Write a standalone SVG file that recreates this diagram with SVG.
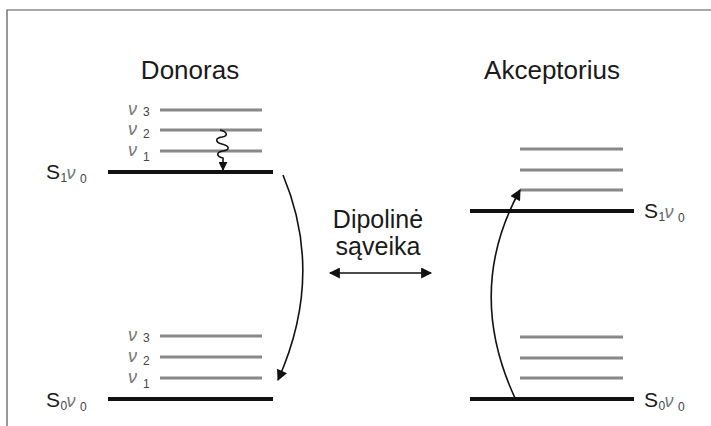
<svg xmlns="http://www.w3.org/2000/svg" width="711" height="426" viewBox="0 0 711 426">
<style>
.t{font-family:"Liberation Sans",Arial,sans-serif;fill:#1a1a1a}
.nu{font-family:"Liberation Sans",Arial,sans-serif;font-style:italic;fill:#777}
.sub{font-family:"Liberation Sans",Arial,sans-serif;font-style:normal;fill:#444}
.lv{stroke:#111;stroke-width:4}
.vb{stroke:#888;stroke-width:3}
.ar{fill:none;stroke:#111;stroke-width:1.6}
</style>
<defs>
<marker id="ah" viewBox="0 0 10 10" refX="9" refY="5" markerWidth="9" markerHeight="9" orient="auto" markerUnits="userSpaceOnUse">
<path d="M0,0 L10,5 L0,10 z" fill="#111"/>
</marker>
<marker id="ahb" viewBox="0 0 10 10" refX="9" refY="5" markerWidth="12" markerHeight="11" orient="auto-start-reverse" markerUnits="userSpaceOnUse">
<path d="M0,0 L10,5 L0,10 z" fill="#111"/>
</marker>
</defs>
<rect width="711" height="426" fill="#fff"/>
<path d="M7,426 V10 H711" fill="none" stroke="#555" stroke-width="1.2"/>

<g id="donor">
<text class="t" x="190" y="79" font-size="26" text-anchor="middle">Donoras</text>
<line class="lv" x1="108" y1="172" x2="273" y2="172"/>
<line class="vb" x1="160" y1="110" x2="262" y2="110"/>
<line class="vb" x1="160" y1="130" x2="262" y2="130"/>
<line class="vb" x1="160" y1="151" x2="262" y2="151"/>
<text class="nu" font-size="18"><tspan x="128" y="115">ν</tspan><tspan class="sub" x="143" y="116" font-size="12">3</tspan><tspan x="128" y="135">ν</tspan><tspan class="sub" x="143" y="138" font-size="12">2</tspan><tspan x="128" y="156">ν</tspan><tspan class="sub" x="143" y="161" font-size="12">1</tspan></text>
<text class="t" x="46" y="179" font-size="21">S<tspan class="sub" x="60.5" font-size="12" dy="3">1</tspan><tspan class="nu" x="66.5" font-size="18" dy="-3">ν</tspan><tspan class="sub" x="80" font-size="12" dy="4">0</tspan></text>
<line class="lv" x1="108" y1="399" x2="273" y2="399"/>
<line class="vb" x1="160" y1="336" x2="262" y2="336"/>
<line class="vb" x1="160" y1="357" x2="262" y2="357"/>
<line class="vb" x1="160" y1="378" x2="262" y2="378"/>
<text class="nu" font-size="18"><tspan x="128" y="341">ν</tspan><tspan class="sub" x="143" y="342" font-size="12">3</tspan><tspan x="128" y="362">ν</tspan><tspan class="sub" x="143" y="365" font-size="12">2</tspan><tspan x="128" y="383">ν</tspan><tspan class="sub" x="143" y="388" font-size="12">1</tspan></text>
<text class="t" x="46" y="407" font-size="21">S<tspan class="sub" x="60.5" font-size="12" dy="3">0</tspan><tspan class="nu" x="66.5" font-size="18" dy="-3">ν</tspan><tspan class="sub" x="80" font-size="12" dy="4">0</tspan></text>
</g>

<g id="acceptor">
<text class="t" x="552" y="79" font-size="26" text-anchor="middle">Akceptorius</text>
<line class="lv" x1="470" y1="211" x2="634" y2="211"/>
<line class="vb" x1="520" y1="149" x2="623" y2="149"/>
<line class="vb" x1="520" y1="170" x2="623" y2="170"/>
<line class="vb" x1="520" y1="190" x2="623" y2="190"/>
<text class="t" x="644" y="218" font-size="21">S<tspan class="sub" x="658.5" font-size="12" dy="3">1</tspan><tspan class="nu" x="664.5" font-size="18" dy="-3">ν</tspan><tspan class="sub" x="678" font-size="12" dy="4">0</tspan></text>
<line class="lv" x1="470" y1="399" x2="634" y2="399"/>
<line class="vb" x1="520" y1="337" x2="623" y2="337"/>
<line class="vb" x1="520" y1="358" x2="623" y2="358"/>
<line class="vb" x1="520" y1="378" x2="623" y2="378"/>
<text class="t" x="644" y="407" font-size="21">S<tspan class="sub" x="658.5" font-size="12" dy="3">0</tspan><tspan class="nu" x="664.5" font-size="18" dy="-3">ν</tspan><tspan class="sub" x="678" font-size="12" dy="4">0</tspan></text>
</g>

<g id="interaction">
<text class="t" x="378" y="228" font-size="25" text-anchor="middle">Dipolinė</text>
<text class="t" x="378" y="255" font-size="25" text-anchor="middle">sąveika</text>
</g>

<g id="connectors">
<path class="ar" stroke-width="1.8" d="M220,130 c8,2 8,6 2,7 c-7,1 -7,5 0,7 c8,2 8,6 1,7 c-7,1 -7,5 0,7 L223,170" marker-end="url(#ah)"/>
<path class="ar" d="M283,175 Q325,275 278,380" marker-end="url(#ahb)"/>
<path class="ar" d="M515,398 Q465,290 520,190" marker-end="url(#ahb)"/>
<line class="ar" x1="330" y1="273" x2="431" y2="273" marker-start="url(#ahb)" marker-end="url(#ahb)"/>
</g>
</svg>
